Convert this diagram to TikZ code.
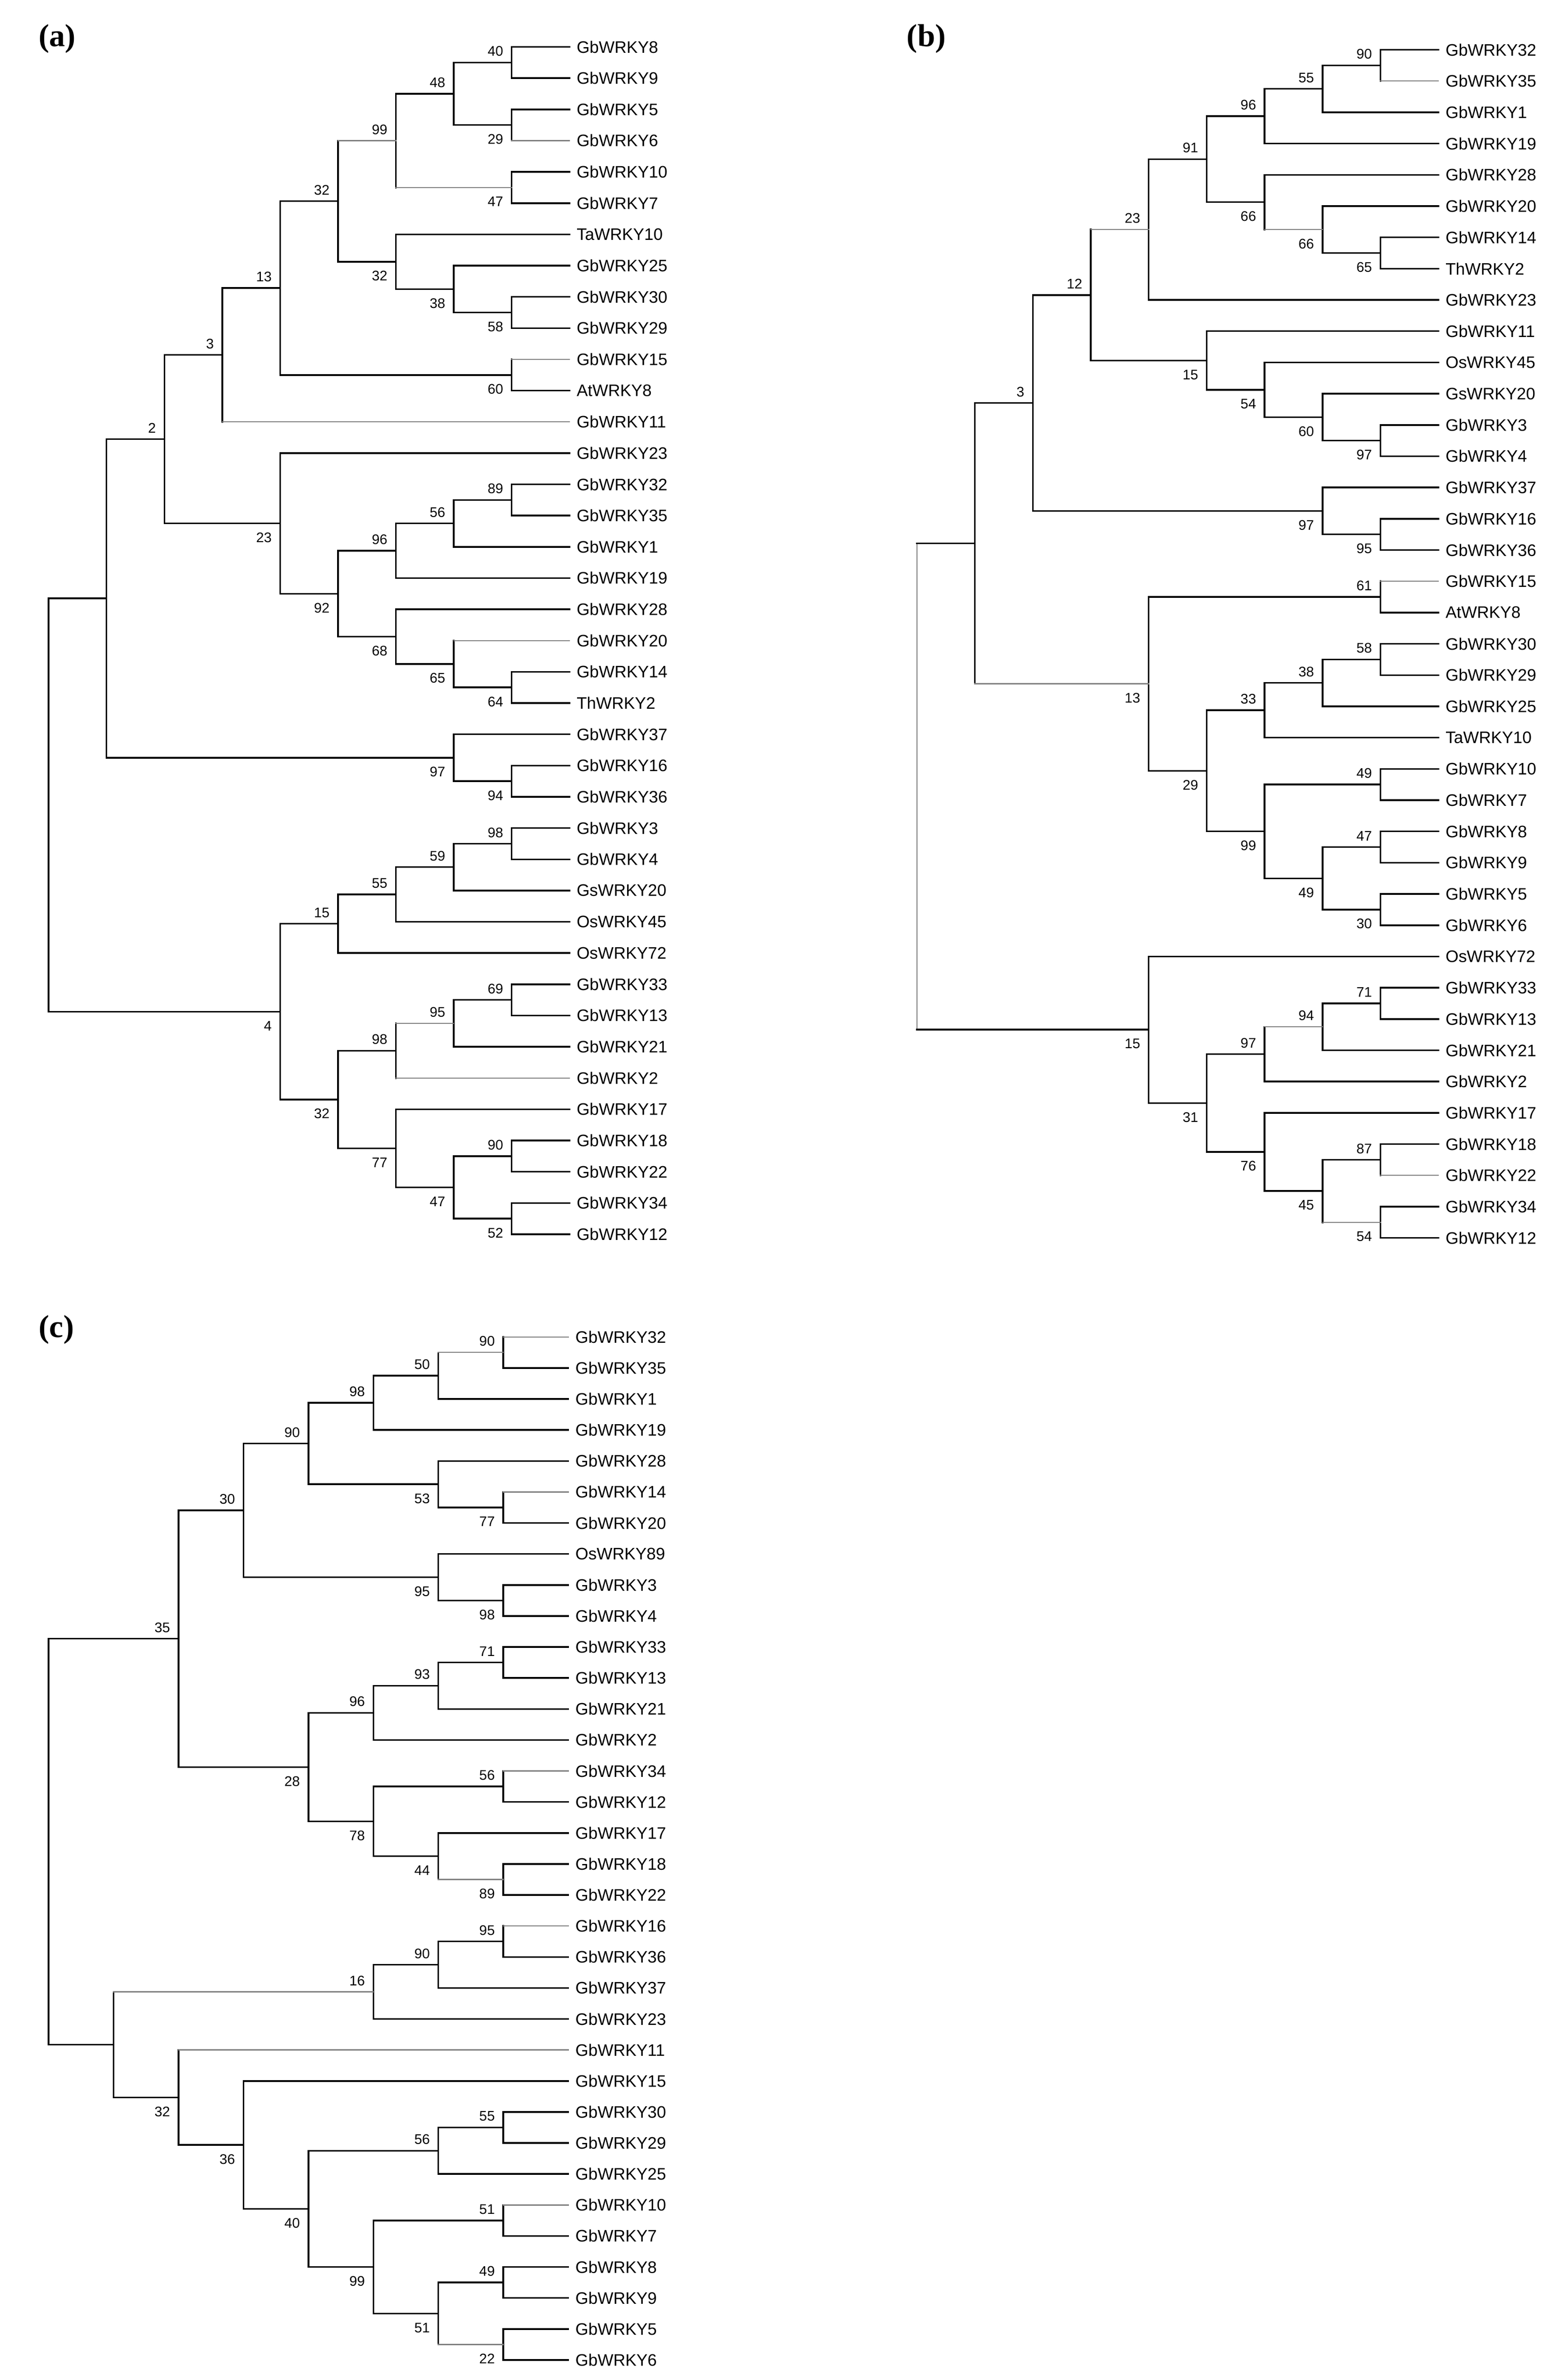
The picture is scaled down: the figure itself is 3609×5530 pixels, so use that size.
\documentclass[tikz,border=0pt]{standalone}
\usepackage{fontspec}
\setmainfont{Liberation Sans}
\newfontfamily\panelfont{Liberation Serif}
\tikzset{
 br/.style={line width=1.1pt, line cap=rect, black},
 lg/.style={black!50, line width=0.75pt},
 leaflbl/.style={font=\fontsize{11}{13}\selectfont, inner sep=0pt, anchor=west},
 bsl/.style={font=\fontsize{9.2}{11}\selectfont, inner sep=0pt, anchor=east},
 panel/.style={font=\panelfont\bfseries\fontsize{21}{24}\selectfont, inner sep=0pt}
}
\newcommand\XA[1]{113+134.44*#1}
\newcommand\YA[1]{36.4+72.6*#1}
\newcommand\XB[1]{2130+134.6*#1}
\newcommand\YB[1]{42.95+72.65*#1}
\newcommand\XC[1]{113+150.875*#1}
\newcommand\YC[1]{3034.4+72.03*#1}
\newcommand\TLeaf[4]{\coordinate (#1) at (#2,#3); \node[leaflbl] (#1t) at (#2+16,#3) {#4};}
\newcommand\TNode[3]{\coordinate (#1) at (#2,#3);}
\newcommand\TBr[3][]{\draw[br] (#3) -- (#3 |- #2); \draw[br,#1] (#3 |- #2) -- (#2);}
\newcommand\TUp[3]{\node[bsl] (#1) at ([shift={(-19,-26)}]#2) {#3};}
\newcommand\TDn[3]{\node[bsl] (#1) at ([shift={(-19,33)}]#2) {#3};}
\begin{document}
\begin{tikzpicture}[x=0.01cm,y=-0.01cm]
\useasboundingbox (0,0) rectangle (3609,5530);
\node[panel] (pa) at (133,90) {(a)};
\node[panel] (pb) at (2152,90) {(b)};
\node[panel] (pc) at (131,3090) {(c)};
% ---------------- tree (a)
\foreach \i/\t in {1/GbWRKY8,2/GbWRKY9,3/GbWRKY5,4/GbWRKY6,5/GbWRKY10,6/GbWRKY7,7/TaWRKY10,8/GbWRKY25,9/GbWRKY30,10/GbWRKY29,11/GbWRKY15,12/AtWRKY8,13/GbWRKY11,14/GbWRKY23,15/GbWRKY32,16/GbWRKY35,17/GbWRKY1,18/GbWRKY19,19/GbWRKY28,20/GbWRKY20,21/GbWRKY14,22/ThWRKY2,23/GbWRKY37,24/GbWRKY16,25/GbWRKY36,26/GbWRKY3,27/GbWRKY4,28/GsWRKY20,29/OsWRKY45,30/OsWRKY72,31/GbWRKY33,32/GbWRKY13,33/GbWRKY21,34/GbWRKY2,35/GbWRKY17,36/GbWRKY18,37/GbWRKY22,38/GbWRKY34,39/GbWRKY12}
 {\TLeaf{a\i}{\XA{9}}{\YA{\i}}{\t}}
\TNode{A40}{\XA{8}}{\YA{1.5}} \TBr{a1}{A40} \TBr{a2}{A40} \TUp{A40l}{A40}{40}
\TNode{A29}{\XA{8}}{\YA{3.5}} \TBr{a3}{A29} \TBr[lg]{a4}{A29} \TDn{A29l}{A29}{29}
\TNode{A48}{\XA{7}}{\YA{2.5}} \TBr{A40}{A48} \TBr{A29}{A48} \TUp{A48l}{A48}{48}
\TNode{A47}{\XA{8}}{\YA{5.5}} \TBr{a5}{A47} \TBr{a6}{A47} \TDn{A47l}{A47}{47}
\TNode{A99}{\XA{6}}{\YA{4}} \TBr{A48}{A99} \TBr[lg]{A47}{A99} \TUp{A99l}{A99}{99}
\TNode{A58}{\XA{8}}{\YA{9.5}} \TBr{a9}{A58} \TBr{a10}{A58} \TDn{A58l}{A58}{58}
\TNode{A38}{\XA{7}}{\YA{8.75}} \TBr{a8}{A38} \TBr{A58}{A38} \TDn{A38l}{A38}{38}
\TNode{A32b}{\XA{6}}{\YA{7.875}} \TBr{a7}{A32b} \TBr{A38}{A32b} \TDn{A32bl}{A32b}{32}
\TNode{A32a}{\XA{5}}{\YA{5.9375}} \TBr[lg]{A99}{A32a} \TBr{A32b}{A32a} \TUp{A32al}{A32a}{32}
\TNode{A60}{\XA{8}}{\YA{11.5}} \TBr[lg]{a11}{A60} \TBr{a12}{A60} \TDn{A60l}{A60}{60}
\TNode{A13}{\XA{4}}{\YA{8.71875}} \TBr{A32a}{A13} \TBr{A60}{A13} \TUp{A13l}{A13}{13}
\TNode{A3}{\XA{3}}{\YA{10.859}} \TBr{A13}{A3} \TBr[lg]{a13}{A3} \TUp{A3l}{A3}{3}
\TNode{A89}{\XA{8}}{\YA{15.5}} \TBr{a15}{A89} \TBr{a16}{A89} \TUp{A89l}{A89}{89}
\TNode{A56}{\XA{7}}{\YA{16.25}} \TBr{A89}{A56} \TBr{a17}{A56} \TUp{A56l}{A56}{56}
\TNode{A96}{\XA{6}}{\YA{17.125}} \TBr{A56}{A96} \TBr{a18}{A96} \TUp{A96l}{A96}{96}
\TNode{A64}{\XA{8}}{\YA{21.5}} \TBr{a21}{A64} \TBr{a22}{A64} \TDn{A64l}{A64}{64}
\TNode{A65}{\XA{7}}{\YA{20.75}} \TBr[lg]{a20}{A65} \TBr{A64}{A65} \TDn{A65l}{A65}{65}
\TNode{A68}{\XA{6}}{\YA{19.875}} \TBr{a19}{A68} \TBr{A65}{A68} \TDn{A68l}{A68}{68}
\TNode{A92}{\XA{5}}{\YA{18.5}} \TBr{A96}{A92} \TBr{A68}{A92} \TDn{A92l}{A92}{92}
\TNode{A23}{\XA{4}}{\YA{16.25}} \TBr{a14}{A23} \TBr{A92}{A23} \TDn{A23l}{A23}{23}
\TNode{A2}{\XA{2}}{\YA{13.555}} \TBr{A3}{A2} \TBr{A23}{A2} \TUp{A2l}{A2}{2}
\TNode{A94}{\XA{8}}{\YA{24.5}} \TBr{a24}{A94} \TBr{a25}{A94} \TDn{A94l}{A94}{94}
\TNode{A97}{\XA{7}}{\YA{23.75}} \TBr{a23}{A97} \TBr{A94}{A97} \TDn{A97l}{A97}{97}
\TNode{A1}{\XA{1}}{\YA{18.65}} \TBr{A2}{A1} \TBr{A97}{A1}
\TNode{A98}{\XA{8}}{\YA{26.5}} \TBr{a26}{A98} \TBr{a27}{A98} \TUp{A98l}{A98}{98}
\TNode{A59}{\XA{7}}{\YA{27.25}} \TBr{A98}{A59} \TBr{a28}{A59} \TUp{A59l}{A59}{59}
\TNode{A55}{\XA{6}}{\YA{28.125}} \TBr{A59}{A55} \TBr{a29}{A55} \TUp{A55l}{A55}{55}
\TNode{A15}{\XA{5}}{\YA{29.0625}} \TBr{A55}{A15} \TBr{a30}{A15} \TUp{A15l}{A15}{15}
\TNode{A69}{\XA{8}}{\YA{31.5}} \TBr{a31}{A69} \TBr{a32}{A69} \TUp{A69l}{A69}{69}
\TNode{A95}{\XA{7}}{\YA{32.25}} \TBr{A69}{A95} \TBr{a33}{A95} \TUp{A95l}{A95}{95}
\TNode{A98b}{\XA{6}}{\YA{33.125}} \TBr[lg]{A95}{A98b} \TBr[lg]{a34}{A98b} \TUp{A98bl}{A98b}{98}
\TNode{A90}{\XA{8}}{\YA{36.5}} \TBr{a36}{A90} \TBr{a37}{A90} \TUp{A90l}{A90}{90}
\TNode{A52}{\XA{8}}{\YA{38.5}} \TBr{a38}{A52} \TBr{a39}{A52} \TDn{A52l}{A52}{52}
\TNode{A47b}{\XA{7}}{\YA{37.5}} \TBr{A90}{A47b} \TBr{A52}{A47b} \TDn{A47bl}{A47b}{47}
\TNode{A77}{\XA{6}}{\YA{36.25}} \TBr{a35}{A77} \TBr{A47b}{A77} \TDn{A77l}{A77}{77}
\TNode{A32c}{\XA{5}}{\YA{34.6875}} \TBr{A98b}{A32c} \TBr{A77}{A32c} \TDn{A32cl}{A32c}{32}
\TNode{A4}{\XA{4}}{\YA{31.875}} \TBr{A15}{A4} \TBr{A32c}{A4} \TDn{A4l}{A4}{4}
\TNode{A0}{\XA{0}}{\YA{25.26}} \TBr{A1}{A0} \TBr{A4}{A0}
% ---------------- tree (b)
\foreach \i/\t in {1/GbWRKY32,2/GbWRKY35,3/GbWRKY1,4/GbWRKY19,5/GbWRKY28,6/GbWRKY20,7/GbWRKY14,8/ThWRKY2,9/GbWRKY23,10/GbWRKY11,11/OsWRKY45,12/GsWRKY20,13/GbWRKY3,14/GbWRKY4,15/GbWRKY37,16/GbWRKY16,17/GbWRKY36,18/GbWRKY15,19/AtWRKY8,20/GbWRKY30,21/GbWRKY29,22/GbWRKY25,23/TaWRKY10,24/GbWRKY10,25/GbWRKY7,26/GbWRKY8,27/GbWRKY9,28/GbWRKY5,29/GbWRKY6,30/OsWRKY72,31/GbWRKY33,32/GbWRKY13,33/GbWRKY21,34/GbWRKY2,35/GbWRKY17,36/GbWRKY18,37/GbWRKY22,38/GbWRKY34,39/GbWRKY12}
 {\TLeaf{b\i}{\XB{9}}{\YB{\i}}{\t}}
\TNode{B90}{\XB{8}}{\YB{1.5}} \TBr{b1}{B90} \TBr[lg]{b2}{B90} \TUp{B90l}{B90}{90}
\TNode{B55}{\XB{7}}{\YB{2.25}} \TBr{B90}{B55} \TBr{b3}{B55} \TUp{B55l}{B55}{55}
\TNode{B96}{\XB{6}}{\YB{3.125}} \TBr{B55}{B96} \TBr{b4}{B96} \TUp{B96l}{B96}{96}
\TNode{B65}{\XB{8}}{\YB{7.5}} \TBr{b7}{B65} \TBr{b8}{B65} \TDn{B65l}{B65}{65}
\TNode{B66b}{\XB{7}}{\YB{6.75}} \TBr{b6}{B66b} \TBr{B65}{B66b} \TDn{B66bl}{B66b}{66}
\TNode{B66a}{\XB{6}}{\YB{5.875}} \TBr{b5}{B66a} \TBr[lg]{B66b}{B66a} \TDn{B66al}{B66a}{66}
\TNode{B91}{\XB{5}}{\YB{4.5}} \TBr{B96}{B91} \TBr{B66a}{B91} \TUp{B91l}{B91}{91}
\TNode{B23}{\XB{4}}{\YB{6.75}} \TBr{B91}{B23} \TBr{b9}{B23} \TUp{B23l}{B23}{23}
\TNode{B97}{\XB{8}}{\YB{13.5}} \TBr{b13}{B97} \TBr{b14}{B97} \TDn{B97l}{B97}{97}
\TNode{B60}{\XB{7}}{\YB{12.75}} \TBr{b12}{B60} \TBr{B97}{B60} \TDn{B60l}{B60}{60}
\TNode{B54}{\XB{6}}{\YB{11.875}} \TBr{b11}{B54} \TBr{B60}{B54} \TDn{B54l}{B54}{54}
\TNode{B15}{\XB{5}}{\YB{10.9375}} \TBr{b10}{B15} \TBr{B54}{B15} \TDn{B15l}{B15}{15}
\TNode{B12}{\XB{3}}{\YB{8.84375}} \TBr[lg]{B23}{B12} \TBr{B15}{B12} \TUp{B12l}{B12}{12}
\TNode{B95}{\XB{8}}{\YB{16.5}} \TBr{b16}{B95} \TBr{b17}{B95} \TDn{B95l}{B95}{95}
\TNode{B97b}{\XB{7}}{\YB{15.75}} \TBr{b15}{B97b} \TBr{B95}{B97b} \TDn{B97bl}{B97b}{97}
\TNode{B3}{\XB{2}}{\YB{12.297}} \TBr{B12}{B3} \TBr{B97b}{B3} \TUp{B3l}{B3}{3}
\TNode{B61}{\XB{8}}{\YB{18.5}} \TBr[lg]{b18}{B61} \TBr{b19}{B61} \TUp{B61l}{B61}{61}
\TNode{B58}{\XB{8}}{\YB{20.5}} \TBr{b20}{B58} \TBr{b21}{B58} \TUp{B58l}{B58}{58}
\TNode{B38}{\XB{7}}{\YB{21.25}} \TBr{B58}{B38} \TBr{b22}{B38} \TUp{B38l}{B38}{38}
\TNode{B33}{\XB{6}}{\YB{22.125}} \TBr{B38}{B33} \TBr{b23}{B33} \TUp{B33l}{B33}{33}
\TNode{B49}{\XB{8}}{\YB{24.5}} \TBr{b24}{B49} \TBr{b25}{B49} \TUp{B49l}{B49}{49}
\TNode{B47}{\XB{8}}{\YB{26.5}} \TBr{b26}{B47} \TBr{b27}{B47} \TUp{B47l}{B47}{47}
\TNode{B30}{\XB{8}}{\YB{28.5}} \TBr{b28}{B30} \TBr{b29}{B30} \TDn{B30l}{B30}{30}
\TNode{B49b}{\XB{7}}{\YB{27.5}} \TBr{B47}{B49b} \TBr{B30}{B49b} \TDn{B49bl}{B49b}{49}
\TNode{B99}{\XB{6}}{\YB{26}} \TBr{B49}{B99} \TBr{B49b}{B99} \TDn{B99l}{B99}{99}
\TNode{B29}{\XB{5}}{\YB{24.0625}} \TBr{B33}{B29} \TBr{B99}{B29} \TDn{B29l}{B29}{29}
\TNode{B13}{\XB{4}}{\YB{21.28}} \TBr{B61}{B13} \TBr{B29}{B13} \TDn{B13l}{B13}{13}
\TNode{B1}{\XB{1}}{\YB{16.79}} \TBr{B3}{B1} \TBr[lg]{B13}{B1}
\TNode{B71}{\XB{8}}{\YB{31.5}} \TBr{b31}{B71} \TBr{b32}{B71} \TUp{B71l}{B71}{71}
\TNode{B94}{\XB{7}}{\YB{32.25}} \TBr{B71}{B94} \TBr{b33}{B94} \TUp{B94l}{B94}{94}
\TNode{B97c}{\XB{6}}{\YB{33.125}} \TBr[lg]{B94}{B97c} \TBr{b34}{B97c} \TUp{B97cl}{B97c}{97}
\TNode{B87}{\XB{8}}{\YB{36.5}} \TBr{b36}{B87} \TBr[lg]{b37}{B87} \TUp{B87l}{B87}{87}
\TNode{B54b}{\XB{8}}{\YB{38.5}} \TBr{b38}{B54b} \TBr{b39}{B54b} \TDn{B54bl}{B54b}{54}
\TNode{B45}{\XB{7}}{\YB{37.5}} \TBr{B87}{B45} \TBr[lg]{B54b}{B45} \TDn{B45l}{B45}{45}
\TNode{B76}{\XB{6}}{\YB{36.25}} \TBr{b35}{B76} \TBr{B45}{B76} \TDn{B76l}{B76}{76}
\TNode{B31}{\XB{5}}{\YB{34.6875}} \TBr{B97c}{B31} \TBr{B76}{B31} \TDn{B31l}{B31}{31}
\TNode{B15b}{\XB{4}}{\YB{32.34}} \TBr{b30}{B15b} \TBr{B31}{B15b} \TDn{B15bl}{B15b}{15}
\TNode{B0}{\XB{0}}{\YB{24.57}}
\draw[br,lg] (B0 |- B1) -- (B0 |- B15b);
\draw[br] (B0 |- B1) -- (B1);
\draw[br] (B0 |- B15b) -- (B15b);
% ---------------- tree (c)
\foreach \i/\t in {1/GbWRKY32,2/GbWRKY35,3/GbWRKY1,4/GbWRKY19,5/GbWRKY28,6/GbWRKY14,7/GbWRKY20,8/OsWRKY89,9/GbWRKY3,10/GbWRKY4,11/GbWRKY33,12/GbWRKY13,13/GbWRKY21,14/GbWRKY2,15/GbWRKY34,16/GbWRKY12,17/GbWRKY17,18/GbWRKY18,19/GbWRKY22,20/GbWRKY16,21/GbWRKY36,22/GbWRKY37,23/GbWRKY23,24/GbWRKY11,25/GbWRKY15,26/GbWRKY30,27/GbWRKY29,28/GbWRKY25,29/GbWRKY10,30/GbWRKY7,31/GbWRKY8,32/GbWRKY9,33/GbWRKY5,34/GbWRKY6}
 {\TLeaf{c\i}{\XC{8}}{\YC{\i}}{\t}}
\TNode{C90}{\XC{7}}{\YC{1.5}} \TBr[lg]{c1}{C90} \TBr{c2}{C90} \TUp{C90l}{C90}{90}
\TNode{C50}{\XC{6}}{\YC{2.25}} \TBr[lg]{C90}{C50} \TBr{c3}{C50} \TUp{C50l}{C50}{50}
\TNode{C98}{\XC{5}}{\YC{3.125}} \TBr{C50}{C98} \TBr{c4}{C98} \TUp{C98l}{C98}{98}
\TNode{C77}{\XC{7}}{\YC{6.5}} \TBr[lg]{c6}{C77} \TBr{c7}{C77} \TDn{C77l}{C77}{77}
\TNode{C53}{\XC{6}}{\YC{5.75}} \TBr{c5}{C53} \TBr{C77}{C53} \TDn{C53l}{C53}{53}
\TNode{C90b}{\XC{4}}{\YC{4.4375}} \TBr{C98}{C90b} \TBr{C53}{C90b} \TUp{C90bl}{C90b}{90}
\TNode{C98b}{\XC{7}}{\YC{9.5}} \TBr{c9}{C98b} \TBr{c10}{C98b} \TDn{C98bl}{C98b}{98}
\TNode{C95}{\XC{6}}{\YC{8.75}} \TBr{c8}{C95} \TBr{C98b}{C95} \TDn{C95l}{C95}{95}
\TNode{C30}{\XC{3}}{\YC{6.59375}} \TBr{C90b}{C30} \TBr{C95}{C30} \TUp{C30l}{C30}{30}
\TNode{C71}{\XC{7}}{\YC{11.5}} \TBr{c11}{C71} \TBr{c12}{C71} \TUp{C71l}{C71}{71}
\TNode{C93}{\XC{6}}{\YC{12.25}} \TBr{C71}{C93} \TBr{c13}{C93} \TUp{C93l}{C93}{93}
\TNode{C96}{\XC{5}}{\YC{13.125}} \TBr{C93}{C96} \TBr{c14}{C96} \TUp{C96l}{C96}{96}
\TNode{C56}{\XC{7}}{\YC{15.5}} \TBr[lg]{c15}{C56} \TBr{c16}{C56} \TUp{C56l}{C56}{56}
\TNode{C89}{\XC{7}}{\YC{18.5}} \TBr{c18}{C89} \TBr{c19}{C89} \TDn{C89l}{C89}{89}
\TNode{C44}{\XC{6}}{\YC{17.75}} \TBr{c17}{C44} \TBr[lg]{C89}{C44} \TDn{C44l}{C44}{44}
\TNode{C78}{\XC{5}}{\YC{16.625}} \TBr{C56}{C78} \TBr{C44}{C78} \TDn{C78l}{C78}{78}
\TNode{C28}{\XC{4}}{\YC{14.875}} \TBr{C96}{C28} \TBr{C78}{C28} \TDn{C28l}{C28}{28}
\TNode{C35}{\XC{2}}{\YC{10.734}} \TBr{C30}{C35} \TBr{C28}{C35} \TUp{C35l}{C35}{35}
\TNode{C95b}{\XC{7}}{\YC{20.5}} \TBr[lg]{c20}{C95b} \TBr{c21}{C95b} \TUp{C95bl}{C95b}{95}
\TNode{C90c}{\XC{6}}{\YC{21.25}} \TBr{C95b}{C90c} \TBr{c22}{C90c} \TUp{C90cl}{C90c}{90}
\TNode{C16}{\XC{5}}{\YC{22.125}} \TBr{C90c}{C16} \TBr{c23}{C16} \TUp{C16l}{C16}{16}
\TNode{C55}{\XC{7}}{\YC{26.5}} \TBr{c26}{C55} \TBr{c27}{C55} \TUp{C55l}{C55}{55}
\TNode{C56b}{\XC{6}}{\YC{27.25}} \TBr{C55}{C56b} \TBr{c28}{C56b} \TUp{C56bl}{C56b}{56}
\TNode{C51}{\XC{7}}{\YC{29.5}} \TBr[lg]{c29}{C51} \TBr{c30}{C51} \TUp{C51l}{C51}{51}
\TNode{C49}{\XC{7}}{\YC{31.5}} \TBr{c31}{C49} \TBr{c32}{C49} \TUp{C49l}{C49}{49}
\TNode{C22}{\XC{7}}{\YC{33.5}} \TBr{c33}{C22} \TBr{c34}{C22} \TDn{C22l}{C22}{22}
\TNode{C51b}{\XC{6}}{\YC{32.5}} \TBr{C49}{C51b} \TBr[lg]{C22}{C51b} \TDn{C51bl}{C51b}{51}
\TNode{C99}{\XC{5}}{\YC{31}} \TBr{C51}{C99} \TBr{C51b}{C99} \TDn{C99l}{C99}{99}
\TNode{C40}{\XC{4}}{\YC{29.125}} \TBr{C56b}{C40} \TBr{C99}{C40} \TDn{C40l}{C40}{40}
\TNode{C36}{\XC{3}}{\YC{27.0625}} \TBr{c25}{C36} \TBr{C40}{C36} \TDn{C36l}{C36}{36}
\TNode{C32}{\XC{2}}{\YC{25.53}} \TBr[lg]{c24}{C32} \TBr{C36}{C32} \TDn{C32l}{C32}{32}
\TNode{C1}{\XC{1}}{\YC{23.83}} \TBr[lg]{C16}{C1} \TBr{C32}{C1}
\TNode{C0}{\XC{0}}{\YC{17.28}} \TBr{C35}{C0} \TBr{C1}{C0}
\end{tikzpicture}
\end{document}
